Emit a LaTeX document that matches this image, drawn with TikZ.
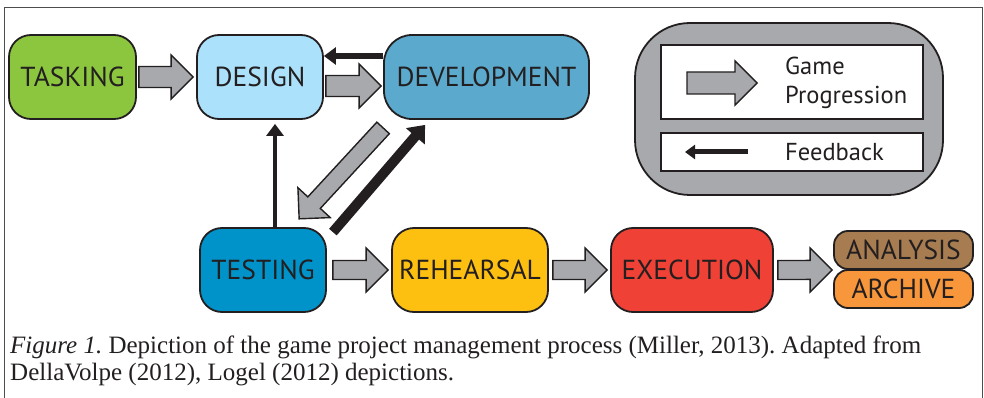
\documentclass[tikz,border=0pt]{standalone}
\usepackage{fontspec}
\usepackage{tikz}
\usetikzlibrary{arrows.meta,calc}
\newfontfamily\labelfont{PT Sans}
\newfontfamily\capfont{Liberation Serif}
\frenchspacing

\definecolor{outl}{HTML}{231F20}
\definecolor{arrowgray}{HTML}{A7A9AC}
\definecolor{taskgreen}{HTML}{8CC63F}
\definecolor{designblue}{HTML}{ABE1FA}
\definecolor{devblue}{HTML}{5BAACD}
\definecolor{testblue}{HTML}{0093C9}
\definecolor{rehyellow}{HTML}{FDC010}
\definecolor{execred}{HTML}{EF4136}
\definecolor{anabrown}{HTML}{A77C50}
\definecolor{archorange}{HTML}{F7963A}
\definecolor{framegray}{HTML}{4D4D4D}

\tikzset{
  stage/.style={draw=outl, line width=1.8pt, rounded corners=22pt, minimum height=84pt, inner sep=0pt, text=outl, font=\labelfont\fontsize{27.5}{32}\selectfont},
  substage/.style={stage, rounded corners=14pt, minimum height=38pt, minimum width=139pt},
  prog/.style={draw=outl, fill=arrowgray, line width=1.4pt, line join=miter},
  feedback/.style={draw=outl, -{Triangle[length=12pt,width=17pt]}},
  legendtext/.style={text=outl, font=\labelfont\fontsize{24.5}{29}\selectfont, inner sep=0pt},
}

\newcommand\progarrow[3][10]{%
  \draw[prog] let \p1=(#2), \p2=(#3),
      \n1={atan2(\y2-\y1,\x2-\x1)}, \n2={veclen(\x2-\x1,\y2-\y1)} in
    [shift={(\p1)}, rotate=\n1]
    (0,-#1) -- ({\n2-22},-#1) -- ({\n2-22},-22) -- (\n2,0)
    -- ({\n2-22},22) -- ({\n2-22},#1) -- (0,#1) -- cycle;
}

\begin{document}
\begin{tikzpicture}[x=1pt,y=-1pt]
\useasboundingbox (0,0) rectangle (984,398);
\draw[framegray, line width=1pt] (4,398) -- (4,8) -- (982,8) -- (982,398);

% stages
\node[stage, fill=taskgreen, minimum width=127pt] (tasking) at (72.5,77) {TASKING};
\node[stage, fill=designblue, minimum width=126pt] (design) at (260,77) {DESIGN};
\node[stage, fill=devblue, minimum width=205pt, rounded corners=28pt] (development) at (486.5,77) {DEVELOPMENT};
\node[stage, fill=testblue, minimum width=126pt] (testing) at (263,270) {TESTING};
\node[stage, fill=rehyellow, minimum width=156pt] (rehearsal) at (470,270) {REHEARSAL};
\node[stage, fill=execred, minimum width=162pt] (execution) at (692,270) {EXECUTION};
\node[substage, fill=anabrown] (analysis) at (903.5,250) {ANALYSIS};
\node[substage, fill=archorange] (archive) at (903.5,289) {ARCHIVE};

% game progression
\progarrow[10.5]{[xshift=2pt]tasking.east}{[xshift=-3pt]design.west}
\progarrow[10.5]{[shift={(2pt,-9pt)}]design.east}{[shift={(-2pt,-9pt)}]development.west}
\progarrow[8.5]{[yshift=-8pt]development.south west}{[shift={(-28pt,8pt)}]testing.north east}
\progarrow[9.5]{[xshift=6pt]testing.east}{[xshift=-3pt]rehearsal.west}
\progarrow[9.5]{[xshift=4pt]rehearsal.east}{[xshift=-3pt]execution.west}
\progarrow[9.5]{[xshift=4pt]execution.east}{[xshift=-1pt]analysis.south west}

% feedback
\draw[feedback, line width=6.5pt] ([yshift=21pt]development.west) -- ([yshift=21pt]design.east);
\draw[feedback, line width=4pt, shorten >=4pt] ([xshift=12pt]testing.north) -- ($(testing.north |- design.south)+(12,0)$);
\draw[feedback, line width=10pt, -{Triangle[length=15pt,width=24pt]}] ([shift={(6pt,-5pt)}]testing.north east) -- ([shift={(42pt,-5pt)}]development.south west);

% legend
\node[draw=outl, line width=1.8pt, fill=arrowgray, rounded corners=55pt, minimum width=308pt, minimum height=172pt] (legend) at (789,109) {};
\node[draw=outl, line width=1.2pt, fill=white, minimum width=262pt, minimum height=74pt] (progbox) at (792,82) {};
\node[draw=outl, line width=1.2pt, fill=white, minimum width=262pt, minimum height=38pt] (fbbox) at (792,152) {};
\node[legendtext, anchor=west, align=left] (progtext) at (785,83) {Game\\Progression};
\node[legendtext, anchor=west] (fbtext) at (785,152) {Feedback};
\coordinate (prog-s) at (687,83);
\coordinate (prog-e) at (757,83);
\progarrow[11]{prog-s}{prog-e}
\coordinate (fb-s) at (748,152);
\coordinate (fb-e) at (685,152);
\draw[feedback, line width=5pt, -{Triangle[length=10pt,width=14pt]}] (fb-s) -- (fb-e);

% caption
\node[anchor=base west, inner sep=0pt, text=outl, font=\capfont\fontsize{25}{27}\selectfont] (caption1) at (10,353) {\textit{Figure 1.} Depiction of the game project management process (Miller, 2013). Adapted from};
\node[anchor=base west, inner sep=0pt, text=outl, font=\capfont\fontsize{25}{27}\selectfont] (caption2) at (10,380) {DellaVolpe (2012), Logel (2012) depictions.};
\end{tikzpicture}
\end{document}
